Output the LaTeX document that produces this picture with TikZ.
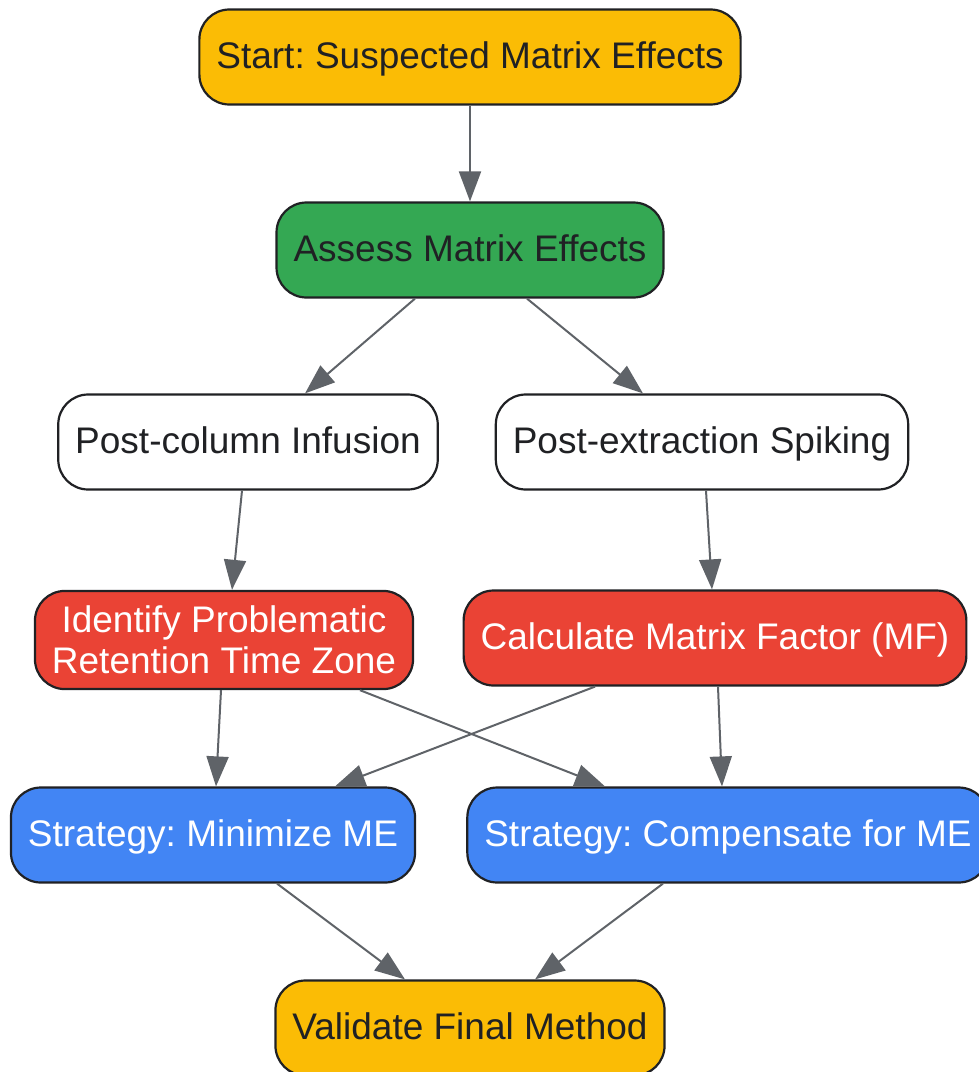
\documentclass[tikz,border=0pt]{standalone}
\usepackage{fontspec}
\setmainfont{Liberation Sans}
\usetikzlibrary{arrows.meta}
\definecolor{gyellow}{HTML}{FBBC05}
\definecolor{ggreen}{HTML}{34A853}
\definecolor{gred}{HTML}{EA4335}
\definecolor{gblue}{HTML}{4285F4}
\definecolor{ink}{HTML}{202124}
\definecolor{edgegray}{HTML}{5F6368}
\tikzstyle{box}=[draw=ink, line width=1.1pt, rounded corners=15pt,
    minimum height=47.5pt, inner xsep=8.5pt, inner ysep=7.5pt, align=center,
    font=\fontsize{18.5pt}{20.5pt}\selectfont, text=ink]
\tikzstyle{oneline}=[text height=1.3em, text depth=0.19em]
\tikzstyle{startend}=[box, oneline, fill=gyellow]
\tikzstyle{assess}=[box, oneline, fill=ggreen]
\tikzstyle{method}=[box, oneline, fill=white]
\tikzstyle{result}=[box, fill=gred, text=white]
\tikzstyle{strategy}=[box, oneline, fill=gblue, text=white]
\tikzstyle{flow}=[draw=edgegray, line width=1pt, -{Triangle[length=15pt,width=11pt]}]
\begin{document}
\frenchspacing
\begin{tikzpicture}[x=0.5pt,y=-0.5pt]
  \useasboundingbox (0,0) rectangle (979,1072);
  \node at (470,57) (start)[startend] {Start: Suspected Matrix Effects};
  \node at (470,250) (assess)[assess] {Assess Matrix Effects};
  \node at (248,442) (pci)[method] {Post-column Infusion};
  \node at (702,442) (pes)[method] {Post-extraction Spiking};
  \node at (224,640) (zone)[result] {Identify Problematic\\Retention Time Zone};
  \node at (715,638) (mf)[result, oneline] {Calculate Matrix Factor (MF)};
  \node at (213,835) (minimize)[strategy] {Strategy: Minimize ME};
  \node at (728,835) (compensate)[strategy] {Strategy: Compensate for ME};
  \node at (470,1028) (validate)[startend] {Validate Final Method};

  \draw[flow] (start) -- (assess);
  \draw[flow] ([xshift=-27.5pt]assess.south) -- ([xshift=28.5pt]pci.north);
  \draw[flow] ([xshift=28.5pt]assess.south) -- ([xshift=-29.5pt]pes.north);
  \draw[flow] ([xshift=-3pt]pci.south) -- ([xshift=4pt]zone.north);
  \draw[flow] ([xshift=2pt]pes.south) -- ([xshift=-1.5pt]mf.north);
  % crossing edges between the two rows
  \draw[flow] ([xshift=-1.5pt]zone.south) -- ([xshift=1.5pt]minimize.north);
  \draw[flow] ([xshift=68pt]zone.south) -- ([xshift=-61.5pt]compensate.north);
  \draw[flow] ([xshift=-60pt]mf.south) -- ([xshift=61pt]minimize.north);
  \draw[flow] ([xshift=1.5pt]mf.south) -- ([xshift=-3pt]compensate.north);
  \draw[flow] ([xshift=32pt]minimize.south) -- ([xshift=-32.5pt]validate.north);
  \draw[flow] ([xshift=-32.5pt]compensate.south) -- ([xshift=32.5pt]validate.north);
\end{tikzpicture}
\end{document}
